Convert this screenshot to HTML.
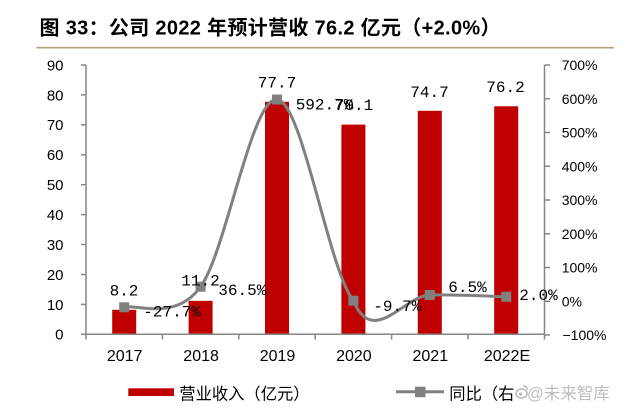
<!DOCTYPE html>
<html>
<head>
<meta charset="utf-8">
<style>
  html, body { margin: 0; padding: 0; background: #ffffff; }
  body { width: 626px; height: 412px; overflow: hidden; }
  svg { display: block; }
</style>
</head>
<body>
<svg width="626" height="412" viewBox="0 0 626 412" xmlns="http://www.w3.org/2000/svg">
  <rect x="0" y="0" width="626" height="412" fill="#ffffff"/>

  <!-- Title -->
  <text x="39.5" y="34.5" font-family="'Liberation Sans', 'Noto Sans CJK SC', sans-serif" font-size="20" font-weight="bold" fill="#000000" textLength="461" lengthAdjust="spacing">图 33：公司 2022 年预计营收 76.2 亿元（+2.0%）</text>
  <line x1="36.5" y1="47.7" x2="614" y2="47.7" stroke="#b9a27a" stroke-width="1.6"/>

  <!-- Bars -->
  <g fill="#c00000">
    <rect x="112.2" y="309.8" width="24" height="24.5"/>
    <rect x="188.6" y="300.8" width="24" height="33.5"/>
    <rect x="265" y="101.8" width="24" height="232.5"/>
    <rect x="341.4" y="124.6" width="24" height="209.7"/>
    <rect x="417.8" y="110.8" width="24" height="223.5"/>
    <rect x="494.2" y="106.3" width="24" height="228"/>
  </g>

  <!-- Axes -->
  <g stroke="#868686" stroke-width="1.5" fill="none">
    <line x1="86" y1="65" x2="86" y2="334.3"/>
    <line x1="544.5" y1="65" x2="544.5" y2="335"/>
    <line x1="86" y1="334.3" x2="544.5" y2="334.3"/>
    <!-- left ticks -->
    <line x1="81" y1="65" x2="86" y2="65"/>
    <line x1="81" y1="94.9" x2="86" y2="94.9"/>
    <line x1="81" y1="124.8" x2="86" y2="124.8"/>
    <line x1="81" y1="154.8" x2="86" y2="154.8"/>
    <line x1="81" y1="184.7" x2="86" y2="184.7"/>
    <line x1="81" y1="214.6" x2="86" y2="214.6"/>
    <line x1="81" y1="244.5" x2="86" y2="244.5"/>
    <line x1="81" y1="274.5" x2="86" y2="274.5"/>
    <line x1="81" y1="304.4" x2="86" y2="304.4"/>
    <line x1="81" y1="334.3" x2="86" y2="334.3"/>
    <!-- right ticks -->
    <line x1="544.5" y1="65" x2="550" y2="65"/>
    <line x1="544.5" y1="98.75" x2="550" y2="98.75"/>
    <line x1="544.5" y1="132.5" x2="550" y2="132.5"/>
    <line x1="544.5" y1="166.25" x2="550" y2="166.25"/>
    <line x1="544.5" y1="200" x2="550" y2="200"/>
    <line x1="544.5" y1="233.75" x2="550" y2="233.75"/>
    <line x1="544.5" y1="267.5" x2="550" y2="267.5"/>
    <line x1="544.5" y1="301.25" x2="550" y2="301.25"/>
    <line x1="544.5" y1="335" x2="550" y2="335"/>
    <!-- x ticks -->
    <line x1="86" y1="334.3" x2="86" y2="339.5"/>
    <line x1="162.4" y1="334.3" x2="162.4" y2="339.5"/>
    <line x1="238.8" y1="334.3" x2="238.8" y2="339.5"/>
    <line x1="315.2" y1="334.3" x2="315.2" y2="339.5"/>
    <line x1="391.6" y1="334.3" x2="391.6" y2="339.5"/>
    <line x1="468" y1="334.3" x2="468" y2="339.5"/>
    <line x1="544.5" y1="334.3" x2="544.5" y2="339.5"/>
  </g>

  <!-- Left axis labels -->
  <g font-family="'Liberation Sans', sans-serif" font-size="15" fill="#000000" text-anchor="end">
    <text x="63.5" y="70.4">90</text>
    <text x="63.5" y="100.3">80</text>
    <text x="63.5" y="130.2">70</text>
    <text x="63.5" y="160.2">60</text>
    <text x="63.5" y="190.1">50</text>
    <text x="63.5" y="220">40</text>
    <text x="63.5" y="249.9">30</text>
    <text x="63.5" y="279.9">20</text>
    <text x="63.5" y="309.8">10</text>
    <text x="63.5" y="339.7">0</text>
  </g>

  <!-- Right axis labels -->
  <g font-family="'Liberation Sans', sans-serif" font-size="14" fill="#000000" text-anchor="start">
    <text x="561.7" y="70">700%</text>
    <text x="561.7" y="103.8">600%</text>
    <text x="561.7" y="137.5">500%</text>
    <text x="561.7" y="171.3">400%</text>
    <text x="561.7" y="205">300%</text>
    <text x="561.7" y="238.8">200%</text>
    <text x="561.7" y="272.5">100%</text>
    <text x="561.7" y="306.3">0%</text>
    <text x="562.5" y="340">−100%</text>
  </g>

  <!-- X labels -->
  <g font-family="'Liberation Sans', sans-serif" font-size="16" fill="#000000" text-anchor="middle">
    <text x="124.7" y="361">2017</text>
    <text x="201.1" y="361">2018</text>
    <text x="277.5" y="361">2019</text>
    <text x="353.9" y="361">2020</text>
    <text x="430.3" y="361">2021</text>
    <text x="507" y="361">2022E</text>
  </g>

  <!-- Growth line -->
  <path d="M124.2,307.3 C137,303.9 175.7,321.3 200.6,286.7 C226,252.1 251.5,97.2 277,99.5 C302.5,101.8 327.9,268.1 353.4,300.7 C373,348 404.3,295.7 429.8,295 C455.3,294.3 493.5,296.4 506.2,296.7"
        fill="none" stroke="#808080" stroke-width="3"/>
  <g fill="#808080">
    <rect x="119.2" y="302.3" width="10" height="10"/>
    <rect x="195.6" y="281.7" width="10" height="10"/>
    <rect x="272" y="94.5" width="10" height="10"/>
    <rect x="348.4" y="295.7" width="10" height="10"/>
    <rect x="424.8" y="290" width="10" height="10"/>
    <rect x="501.2" y="291.7" width="10" height="10"/>
  </g>

  <!-- Data labels -->
  <g font-family="'Liberation Mono', 'DejaVu Sans Mono', monospace" font-size="16" fill="#000000">
    <text x="124" y="295.3" text-anchor="middle">8.2</text>
    <text x="200.5" y="285.5" text-anchor="middle">11.2</text>
    <text x="218.3" y="294.8">36.5%</text>
    <text x="143.3" y="316.7">-27.7%</text>
    <text x="277" y="87.5" text-anchor="middle">77.7</text>
    <text x="295.7" y="109.5">592.7%</text>
    <text x="354" y="109.8" text-anchor="middle">70.1</text>
    <text x="429.5" y="96.8" text-anchor="middle">74.7</text>
    <text x="505.5" y="91.8" text-anchor="middle">76.2</text>
    <text x="448.3" y="291.8">6.5%</text>
    <text x="373.3" y="310.8">-9.7%</text>
    <text x="519.3" y="299.8">2.0%</text>
  </g>

  <!-- Legend -->
  <rect x="128.3" y="388.3" width="45.7" height="7.7" fill="#c00000"/>
  <text x="179.3" y="399.3" font-family="'Noto Sans CJK SC', 'WenQuanYi Zen Hei', sans-serif" font-size="16.3" fill="#000000">营业收入（亿元）</text>
  <line x1="396" y1="391.7" x2="444" y2="391.7" stroke="#808080" stroke-width="3"/>
  <rect x="415" y="386.7" width="10.5" height="10.5" fill="#808080"/>
  <text x="449.3" y="399.3" font-family="'Noto Sans CJK SC', 'WenQuanYi Zen Hei', sans-serif" font-size="16.3" fill="#000000">同比（右</text>

  <!-- Watermark -->
  <g>
    <rect x="514" y="382" width="100" height="22" fill="#ffffff" opacity="0.6"/>
    <ellipse cx="521.5" cy="393.5" rx="5.5" ry="4.5" fill="none" stroke="#b5b5b5" stroke-width="1.5"/>
    <circle cx="520.5" cy="394" r="1.6" fill="#b5b5b5"/>
    <path d="M523,386 q4,0 4.5,4" fill="none" stroke="#b5b5b5" stroke-width="1.2"/>
    <text x="527" y="399" font-family="'Liberation Sans', 'Noto Sans CJK SC', sans-serif" font-size="16.5" fill="#bdbdbd" stroke="#ffffff" stroke-width="0.6" paint-order="stroke">@未来智库</text>
  </g>
</svg>
</body>
</html>
